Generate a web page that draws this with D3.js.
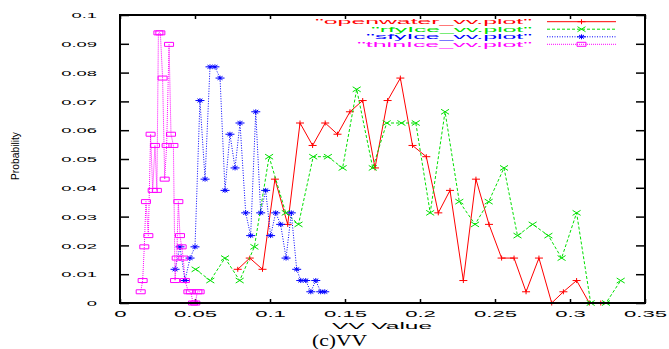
<!DOCTYPE html>
<html><head><meta charset="utf-8">
<script src="https://cdn.jsdelivr.net/npm/d3@7"></script>
<style>body{margin:0;background:#fff}svg{display:block}</style>
</head><body><svg id="c" width="669" height="349"></svg>
<script>
// ---- data ----
const xTicks = [0, 0.05, 0.1, 0.15, 0.2, 0.25, 0.3, 0.35];
const xTickLabels = ["0", "0.05", "0.1", "0.15", "0.2", "0.25", "0.3", "0.35"];
const yTicks = [0, 0.01, 0.02, 0.03, 0.04, 0.05, 0.06, 0.07, 0.08, 0.09, 0.1];
const yTickLabels = ["0", "0.01", "0.02", "0.03", "0.04", "0.05", "0.06", "0.07", "0.08", "0.09", "0.1"];
const seriesNames = ["\"openwater_vv.plot\"", "\"rfyIce_vv.plot\"", "\"sfyIce_vv.plot\"", "\"thinIce_vv.plot\""];

const openwaterX = [0.0785,0.0865,0.095,0.1033,0.1118,0.12,0.1284,0.1368,0.145,0.1533,0.1618,0.17,0.1784,0.1869,0.195,0.2042,0.2122,0.22,0.2289,0.2373,0.246,0.2544,0.2627,0.2707,0.2793,0.2878,0.2956,0.3044,0.3129,0.3205];
const openwaterY = [0.0117,0.0156,0.0117,0.043,0.0273,0.0625,0.0547,0.0625,0.0586,0.0664,0.0703,0.0469,0.0703,0.0781,0.0547,0.0508,0.0313,0.0391,0.0078,0.043,0.0273,0.0156,0.0156,0.0039,0.0156,0,0.0039,0.0078,0,0];

const rfyIceX = [0.0504,0.0602,0.07,0.0798,0.0896,0.0994,0.1105,0.119,0.1288,0.1386,0.1484,0.1578,0.1685,0.1778,0.1876,0.1972,0.2068,0.2167,0.2262,0.2367,0.2458,0.256,0.265,0.2751,0.2856,0.2944,0.3044,0.3138,0.324,0.3338];
const rfyIceY = [0.0117,0.0078,0.0156,0.0078,0.0195,0.0508,0.0313,0.0273,0.0508,0.0508,0.0469,0.0742,0.0469,0.0625,0.0625,0.0625,0.0313,0.0664,0.0352,0.0273,0.0352,0.0469,0.0234,0.0273,0.0234,0.0156,0.0313,0,0,0.0078];

const sfyIceX = [0.0367,0.04,0.0433,0.0467,0.05,0.0533,0.0567,0.06,0.0633,0.0667,0.07,0.0733,0.0767,0.08,0.0838,0.0871,0.0905,0.0938,0.0971,0.1004,0.1038,0.1071,0.1107,0.1142,0.1178,0.1205,0.1238,0.1272,0.1305,0.1338,0.1365];
const sfyIceY = [0.0117,0.0195,0.0078,0.0156,0.0195,0.0703,0.043,0.082,0.082,0.0781,0.0391,0.0586,0.0469,0.0625,0.0313,0.0234,0.0664,0.0313,0.0391,0.0234,0.0313,0.0273,0.0156,0.0313,0.0117,0.0078,0.0078,0.0039,0.0078,0.0039,0.0039];

const thinIceX = [0.0138,0.0151,0.0162,0.0173,0.0189,0.0204,0.0218,0.0233,0.0246,0.0256,0.0269,0.0284,0.0298,0.0311,0.0327,0.034,0.0356,0.0367,0.0378,0.0389,0.04,0.0411,0.0422,0.0433,0.0456,0.0472,0.0487,0.0502,0.0516,0.0531];
const thinIceY = [0.0039,0.0078,0.0195,0.0352,0.0234,0.0586,0.0391,0.0547,0.0391,0.0938,0.0938,0.0781,0.043,0.0547,0.0898,0.0586,0.0547,0.0078,0.0156,0.0352,0.0234,0.0195,0.0156,0.0078,0.0039,0.0039,0,0,0.0039,0.0039];

// ---- layout ----
const svg = d3.select("#c");
const L = 120, R = 645, T = 15, B = 303;
const x = d3.scaleLinear().domain([0, 0.35]).range([L, R]);
const y = d3.scaleLinear().domain([0, 0.1]).range([B, T]);
const FONT = "'Liberation Sans', Arial, sans-serif";

const series = [
  {name: seriesNames[0], xs: openwaterX, ys: openwaterY, color: "#ff0000", dash: null, marker: "plus"},
  {name: seriesNames[1], xs: rfyIceX, ys: rfyIceY, color: "#00e000", dash: "3,2", marker: "cross"},
  {name: seriesNames[2], xs: sfyIceX, ys: sfyIceY, color: "#0000ff", dash: "1,1.5", marker: "star"},
  {name: seriesNames[3], xs: thinIceX, ys: thinIceY, color: "#ff00ff", dash: "1,1", marker: "box"}
];
const markerPath = {
  plus: "M-4,0H4M0,-2.5V2.5",
  cross: "M-4,-2.5L4,2.5M-4,2.5L4,-2.5",
  star: "M-4.5,0H4.5M0,-2.5V2.5M-2.5,-1.8L2.5,1.8M-2.5,1.8L2.5,-1.8",
  box: "M-4.5,-2H4.5V2H-4.5Z"
};

// axes (ticks inward)
const gl = svg.append("g").attr("transform", `translate(${L},0)`)
  .call(d3.axisLeft(y).tickValues(yTicks).tickFormat((d,i) => yTickLabels[i]).tickSizeInner(-9).tickSizeOuter(0).tickPadding(0));
const gr = svg.append("g").attr("transform", `translate(${R},0)`)
  .call(d3.axisRight(y).tickValues(yTicks).tickFormat("").tickSizeInner(-9).tickSizeOuter(0));
const gb = svg.append("g").attr("transform", `translate(0,${B})`)
  .call(d3.axisBottom(x).tickValues(xTicks).tickFormat((d,i) => xTickLabels[i]).tickSizeInner(-4).tickSizeOuter(0).tickPadding(0));
const gt = svg.append("g").attr("transform", `translate(0,${T})`)
  .call(d3.axisTop(x).tickValues(xTicks).tickFormat("").tickSizeInner(-4).tickSizeOuter(0));
[gl, gr, gb, gt].forEach(g => {
  g.select(".domain").remove();
  g.selectAll(".tick line").attr("stroke", "#000").attr("stroke-width", 1.5);
});
const sxY = 2.45, sxX = 2.6;
gl.selectAll(".tick text")
  .attr("font-family", FONT).attr("font-size", 7.5).attr("fill", "#000")
  .attr("x", -23 / sxY).attr("dy", "0.36em")
  .attr("transform", `scale(${sxY},1)`);
gb.selectAll(".tick text")
  .attr("font-family", FONT).attr("font-size", 8.5).attr("fill", "#000")
  .attr("y", 14).attr("dy", 0)
  .attr("transform", `scale(${sxX},1)`);

// series
const plot = svg.append("g");
series.forEach(s => {
  const pts = s.xs.map((v, i) => [v, s.ys[i]]);
  plot.append("path")
    .attr("d", d3.line().x(d => x(d[0])).y(d => y(d[1]))(pts))
    .attr("fill", "none").attr("stroke", s.color).attr("stroke-width", 1)
    .attr("stroke-dasharray", s.dash);
  plot.selectAll(null).data(pts).join("path")
    .attr("transform", d => `translate(${x(d[0])},${y(d[1])})`)
    .attr("d", markerPath[s.marker])
    .attr("fill", "none").attr("stroke", s.color).attr("stroke-width", 1);
});

// border
svg.append("rect").attr("x", L).attr("y", T).attr("width", R - L).attr("height", B - T)
  .attr("fill", "none").attr("stroke", "#000").attr("stroke-width", 2);

// legend
const legRows = [21.7, 29.2, 36.8, 44.3];
const legLens = [217, 161, 166, 175];
series.forEach((s, i) => {
  const yy = legRows[i];
  svg.append("text").attr("x", 532).attr("y", yy + 2.6)
    .attr("text-anchor", "end").attr("font-family", FONT).attr("font-size", 7.6)
    .attr("fill", s.color).attr("textLength", legLens[i]).attr("lengthAdjust", "spacingAndGlyphs")
    .text(s.name);
  svg.append("line").attr("x1", 547).attr("x2", 616).attr("y1", yy).attr("y2", yy)
    .attr("stroke", s.color).attr("stroke-width", 1).attr("stroke-dasharray", s.dash);
  svg.append("path").attr("transform", `translate(581.5,${yy})`).attr("d", markerPath[s.marker])
    .attr("fill", "none").attr("stroke", s.color).attr("stroke-width", 1);
});

// axis titles
svg.append("text").attr("x", 382).attr("y", 329).attr("text-anchor", "middle")
  .attr("font-family", FONT).attr("font-size", 9.5).attr("fill", "#000")
  .attr("textLength", 100).attr("lengthAdjust", "spacingAndGlyphs").text("VV Value");
svg.append("text").attr("transform", "translate(19,156) rotate(-90)").attr("text-anchor", "middle")
  .attr("font-family", FONT).attr("font-size", 10).attr("fill", "#000")
  .attr("textLength", 48).attr("lengthAdjust", "spacingAndGlyphs").text("Probability");
svg.append("text").attr("x", 339.5).attr("y", 345.5).attr("text-anchor", "middle")
  .attr("font-family", "'Liberation Serif', 'Times New Roman', serif").attr("font-size", 16).attr("fill", "#000")
  .attr("textLength", 55).attr("lengthAdjust", "spacingAndGlyphs").text("(c)VV");
</script></body></html>
